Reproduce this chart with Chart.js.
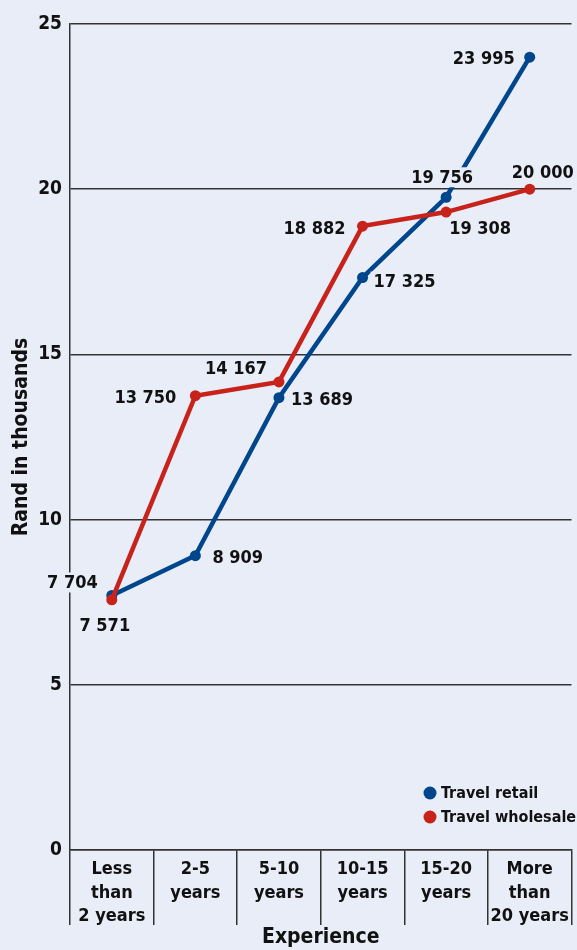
<!DOCTYPE html>
<html>
<head>
<meta charset="utf-8">
<script src="https://cdn.jsdelivr.net/npm/chart.js@4/dist/chart.umd.min.js"></script>
<style>
  html, body { margin: 0; padding: 0; background: #e8edf8; }
  #wrap { width: 577px; height: 950px; position: relative; }
</style>
</head>
<body>
<div id="wrap"><canvas id="chart"></canvas></div>
<script>
const categories = [
  ["Less", "than", "2 years"],
  ["2-5", "years"],
  ["5-10", "years"],
  ["10-15", "years"],
  ["15-20", "years"],
  ["More", "than", "20 years"],
];
const retail = [7.704, 8.909, 13.689, 17.325, 19.756, 23.995];
const wholesale = [7.571, 13.75, 14.167, 18.882, 19.308, 20.0];
const retailLabels = ["7 704", "8 909", "13 689", "17 325", "19 756", "23 995"];
const wholesaleLabels = ["7 571", "13 750", "14 167", "18 882", "19 308", "20 000"];

const BLUE = "#00468c";
const RED = "#c8231b";
const INK = "#111111";
const BG = "#e8edf8";
const FONT = "'Liberation Sans Narrow', 'DejaVu Sans Condensed', sans-serif";

// label placement relative to the point: [dx, dy, textAlign]
const retailPos = [
  [-14, -13, "right"], [17, 2, "left"], [12, 2, "left"],
  [11, 4, "left"], [-4, -20, "center"], [-15, 1, "right"],
];
const wholesalePos = [
  [-7, 25, "center"], [-19, 2, "right"], [-12, -14, "right"],
  [-17, 2, "right"], [3, 16, "left"], [13, -17, "center"],
];

const pointLabels = {
  id: "pointLabels",
  afterDatasetsDraw(chart) {
    const ctx = chart.ctx;
    ctx.save();
    ctx.font = "bold 18px " + FONT;
    ctx.textBaseline = "middle";
    chart.data.datasets.forEach((ds, i) => {
      const meta = chart.getDatasetMeta(i);
      meta.data.forEach((pt, j) => {
        const [dx, dy, align] = ds.labelPos[j];
        const text = ds.labelText[j];
        const x = pt.x + dx;
        const y = pt.y + dy;
        const w = ctx.measureText(text).width;
        let left = x;
        if (align === "right") left = x - w;
        if (align === "center") left = x - w / 2;
        ctx.fillStyle = BG;
        ctx.fillRect(left - 3, y - 10, w + 6, 20);
        ctx.fillStyle = INK;
        ctx.textAlign = align;
        ctx.fillText(text, x, y + 1);
      });
    });
    ctx.restore();
  },
};

const legendBox = {
  id: "legendBox",
  afterDraw(chart) {
    const ctx = chart.ctx;
    ctx.save();
    ctx.font = "bold 16px " + FONT;
    ctx.textBaseline = "middle";
    ctx.textAlign = "left";
    const items = [chart.data.datasets[0], chart.data.datasets[1]];
    items.forEach((ds, i) => {
      const y = 793 + i * 24;
      ctx.fillStyle = ds.borderColor;
      ctx.beginPath();
      ctx.arc(430, y, 6.5, 0, Math.PI * 2);
      ctx.fill();
      ctx.fillStyle = INK;
      ctx.fillText(ds.label, 441, y + 1);
    });
    ctx.restore();
  },
};

new Chart(document.getElementById("chart"), {
  type: "line",
  data: {
    labels: categories,
    datasets: [
      {
        label: "Travel retail",
        data: retail,
        labelText: retailLabels,
        labelPos: retailPos,
        borderColor: BLUE,
        backgroundColor: BLUE,
        borderWidth: 4.5,
        pointRadius: 5.5,
        pointBorderWidth: 0,
        tension: 0,
        order: 1,
      },
      {
        label: "Travel wholesale",
        data: wholesale,
        labelText: wholesaleLabels,
        labelPos: wholesalePos,
        borderColor: RED,
        backgroundColor: RED,
        borderWidth: 4.5,
        pointRadius: 5.5,
        pointBorderWidth: 0,
        tension: 0,
        order: 0,
      },
    ],
  },
  options: {
    responsive: true,
    maintainAspectRatio: false,
    animation: false,
    layout: { padding: { top: 24, right: 0, left: 0, bottom: 0 } },
    plugins: {
      legend: { display: false },
      tooltip: { enabled: false },
    },
    scales: {
      x: {
        offset: true,
        afterFit: (scale) => {
          scale.height = 100;
          scale.paddingRight = 0;
        },
        grid: {
          offset: true,
          drawOnChartArea: false,
          drawTicks: true,
          tickLength: 75,
          color: "#333",
          lineWidth: 1.5,
        },
        border: { display: true, color: "#333", width: 1.5 },
        ticks: {
          autoSkip: false,
          maxRotation: 0,
          padding: -67,
          color: INK,
          font: { family: FONT, size: 18, weight: "bold", lineHeight: 1.3 },
        },
        title: {
          display: true,
          text: "Experience",
          color: INK,
          padding: { top: 0, bottom: 0 },
          font: { family: FONT, size: 21, weight: "bold", lineHeight: 1.2 },
        },
      },
      y: {
        min: 0,
        max: 25,
        afterFit: (scale) => { scale.width = 70; },
        afterBuildTicks: (scale) => {
          scale.ticks = [0, 5, 10, 15, 20, 25].map((v) => ({ value: v }));
        },
        grid: {
          color: "#333",
          lineWidth: 1.5,
          drawTicks: false,
        },
        border: { display: true, color: "#333", width: 1.5 },
        ticks: {
          padding: 8,
          color: INK,
          font: { family: FONT, size: 19, weight: "bold" },
        },
        title: {
          display: true,
          text: "Rand in thousands",
          color: INK,
          padding: { top: 9, bottom: 0 },
          font: { family: FONT, size: 21, weight: "bold", lineHeight: 1.2 },
        },
      },
    },
  },
  plugins: [pointLabels, legendBox],
});
</script>
</body>
</html>
